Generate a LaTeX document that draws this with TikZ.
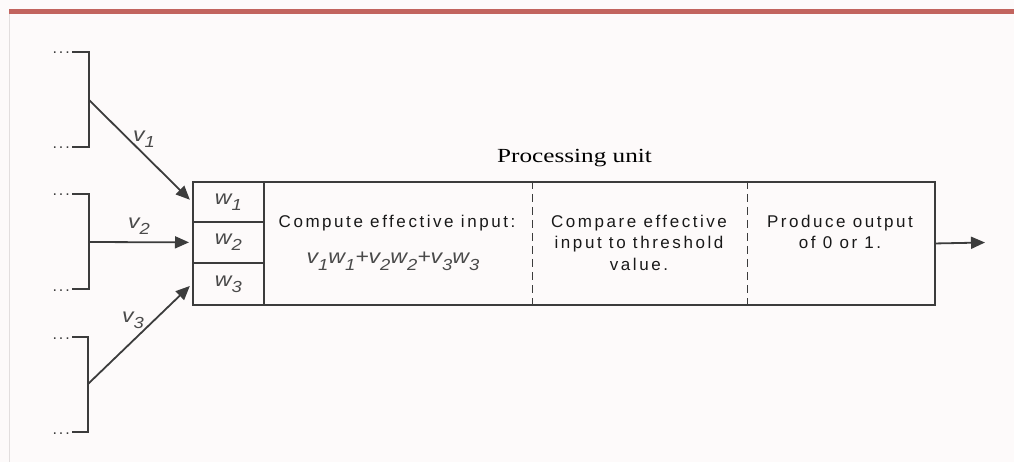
\documentclass[tikz,border=0pt]{standalone}
\usepackage{fontspec}
\usetikzlibrary{arrows.meta}
\newfontfamily\procfont[FakeStretch=1.26]{Liberation Serif}
\newfontfamily\cellfont[LetterSpace=15]{Liberation Sans}
\newfontfamily\dotfont[LetterSpace=12]{Liberation Sans}
\newfontfamily\formfont[FakeStretch=1.15]{Liberation Sans}
\definecolor{ink}{HTML}{3C3C3C}
\definecolor{labgrey}{HTML}{4A4A4A}
\definecolor{bgcol}{HTML}{FDFAFA}
\definecolor{band}{HTML}{C2645E}
\definecolor{edge}{HTML}{E2DEDE}
\newcommand\lowsub[1]{\raisebox{-0.3em}{\fontsize{16}{16}\selectfont #1}}
\tikzset{
  line/.style={draw=ink, line width=1.8pt},
  arrow/.style={line, -{Triangle[length=14pt,width=12pt]}, shorten >=3pt},
  unitbox/.style={draw=ink, line width=1.9pt, inner sep=0pt, anchor=north west},
  cell/.style={draw=ink, line width=1.8pt, inner sep=0pt, anchor=north west, minimum width=71pt,
    font=\formfont\itshape\fontsize{20}{22}\selectfont, text=labgrey},
  plaincell/.style={inner sep=0pt, anchor=north west, minimum height=123pt},
  sep/.style={draw=ink, line width=1.5pt, dash pattern=on 8pt off 5pt},
  celltext/.style={font=\cellfont\fontsize{17}{21.5}\selectfont, text=black!90, align=center, inner sep=0pt, anchor=north},
  lab/.style={font=\formfont\itshape\fontsize{20}{22}\selectfont, text=labgrey, inner sep=0pt},
  dots/.style={font=\dotfont\fontsize{16}{16}\selectfont, text=ink, inner sep=0pt, anchor=base east}
}
\begin{document}
\begin{tikzpicture}[x=1pt,y=-1pt]
\fill[bgcol] (0,0) rectangle (1014,462);
\useasboundingbox (0,0) rectangle (1014,462);
\fill[band] (9,9) rectangle (1014,14);
\draw[edge, line width=1pt] (9.5,14) -- (9.5,462);

% processing unit
\node[font=\procfont\fontsize{20}{22}\selectfont, anchor=base, inner sep=0pt] (title) at (574.5,163) {Processing unit};
\node[unitbox, minimum width=742pt, minimum height=123pt] (unit) at (192,181) {};
\node[cell, minimum height=40pt] (w1) at (192,181) {w\lowsub{1}};
\node[cell, minimum height=41pt] (w2) at (192,221) {w\lowsub{2}};
\node[cell, minimum height=42pt] (w3) at (192,262) {w\lowsub{3}};
\node[plaincell, minimum width=269pt] (comp) at (263,181) {};
\node[plaincell, minimum width=215pt] (cmp) at (532,181) {};
\node[plaincell, minimum width=187pt] (prod) at (747,181) {};
\draw[sep] (comp.north east) -- (comp.south east);
\draw[sep] (cmp.north east) -- (cmp.south east);

\node[celltext] (comptxt) at (397,214.8) {Compute effective input:};
\node[lab, anchor=base] (formula) at (393,264) {v\lowsub{1}w\lowsub{1}+v\lowsub{2}w\lowsub{2}+v\lowsub{3}w\lowsub{3}};
\node[celltext] (cmptxt) at (639,214.8) {Compare effective\\input to threshold\\value.};
\node[celltext] (prodtxt) at (840,214.8) {Produce output\\of 0 or 1.};

% inputs
\node[dots] (d1a) at (70,54) {...};
\node[dots] (d1b) at (70,149) {...};
\node[dots] (d2a) at (70,196) {...};
\node[dots] (d2b) at (70,291) {...};
\node[dots] (d3a) at (70,339) {...};
\node[dots] (d3b) at (70,434) {...};
\coordinate (b1a) at (72,52);  \coordinate (b1m) at (89,100);  \coordinate (b1b) at (72,147);
\coordinate (b2a) at (72,194); \coordinate (b2m) at (89,242);  \coordinate (b2b) at (72,289);
\coordinate (b3a) at (72,337); \coordinate (b3m) at (88,384);  \coordinate (b3b) at (72,432);
\draw[line] (b1a) -| (b1m) |- (b1b);
\draw[line] (b2a) -| (b2m) |- (b2b);
\draw[line] (b3a) -| (b3m) |- (b3b);
\draw[arrow] (b1m) -- (w1.west);
\draw[arrow] (b2m) -- (w2.west);
\draw[arrow] (b3m) -- (w3.west);
\node[lab] (v1) at (144,139) {v\lowsub{1}};
\node[lab] (v2) at (139,226) {v\lowsub{2}};
\node[lab] (v3) at (133,320) {v\lowsub{3}};

% output
\coordinate (out) at (985,242.5);
\draw[arrow, shorten >=0pt] (unit.east) -- (out);
\end{tikzpicture}
\end{document}
